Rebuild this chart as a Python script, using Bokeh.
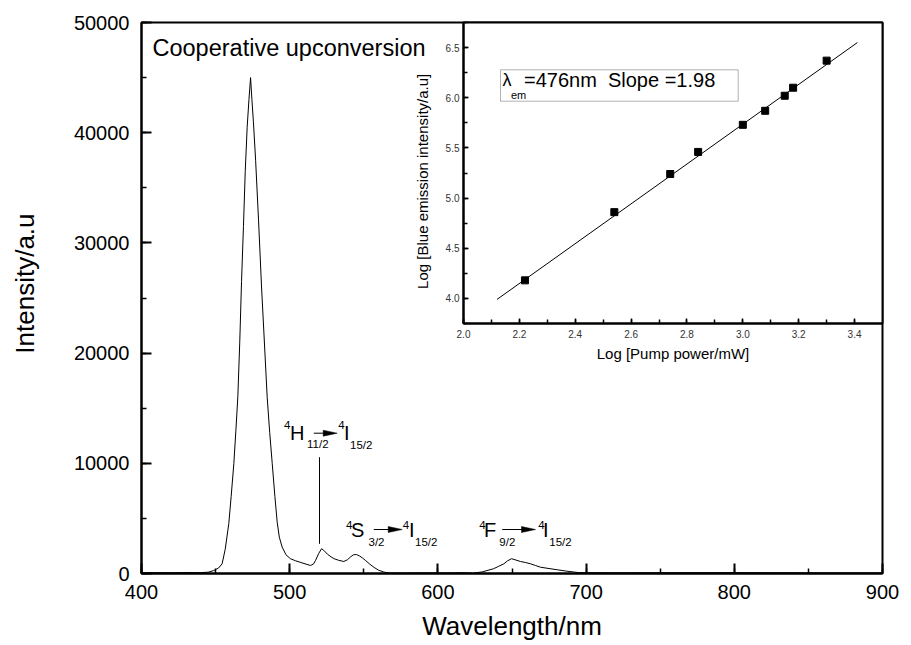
from bokeh.plotting import figure
from bokeh.models import (Range1d, SingleIntervalTicker, NumeralTickFormatter,
                          PrintfTickFormatter, BoxAnnotation, GridBox)
from bokeh.core.properties import value
from bokeh.embed import file_html
from bokeh.resources import INLINE

FONT = "Liberation Sans"
NB = "\u00a0"

# ---------------- data ----------------
wavelength = [400, 410, 420, 430, 440, 445, 448.8, 452, 454.4, 456.5, 458.9, 460.5, 462.3,
              463.7, 465, 466.3, 467.5, 468.8, 470, 471.3, 472.5, 473.6, 474.5, 475.5, 477,
              479, 481, 482.5, 484.8, 486.5, 488.2, 490, 491.6, 493, 494.9, 497.5, 500.5,
              504, 507.5, 511, 514, 516, 517.5, 519.5, 521.5, 523, 525.5, 528, 530, 533,
              536.5, 539, 541, 543, 545, 547, 549, 551, 554, 557, 560, 563.5, 567, 575,
              590, 605, 618, 624, 630, 637.5, 641, 644.5, 647, 649.7, 652, 655.7, 659,
              662.5, 666, 669.2, 675, 680.5, 687, 695, 720, 750, 800, 850, 900]
intensity = [60, 80, 70, 90, 80, 120, 270, 500, 880, 2200, 4520, 7000, 9970,
             13000, 16030, 21000, 26500, 31500, 36500, 40500, 43000, 45000, 43000, 41000, 37500,
             32000, 26000, 22100, 16000, 12800, 10000, 7000, 4600, 3300, 2400, 1700, 1340,
             1150, 1000, 850, 730, 850, 1200, 1800, 2250, 2100, 1750, 1500, 1340, 1200,
             1090, 1250, 1500, 1700, 1720, 1600, 1420, 1200, 850, 550, 300, 130, 50, 40,
             60, 50, 70, 30, 150, 430, 650, 880, 1150, 1340, 1250, 1090, 1000,
             880, 720, 570, 450, 340, 210, 80, 60, 70, 80, 60, 60]

pump_log = [2.22, 2.54, 2.74, 2.84, 3.00, 3.08, 3.15, 3.18, 3.30]
emission_log = [4.18, 4.86, 5.24, 5.46, 5.73, 5.87, 6.02, 6.10, 6.37]
fit_x = [2.12, 3.41]
fit_y = [3.99, 6.55]

# shared borders (plots in one grid cell get aligned borders)
BL, BR, BT, BB = 141, 29, 22, 72

# ---------------- main figure ----------------
p = figure(width=911, height=645, x_range=Range1d(400, 900), y_range=Range1d(0, 50000),
           output_backend="svg", toolbar_location=None,
           min_border_left=BL, min_border_right=BR, min_border_top=BT, min_border_bottom=BB)
p.grid.visible = False
p.outline_line_color = "black"
p.outline_line_width = 2
p.xaxis.ticker = SingleIntervalTicker(interval=100, num_minor_ticks=2)
p.yaxis.ticker = SingleIntervalTicker(interval=10000, num_minor_ticks=2)
p.yaxis.formatter = NumeralTickFormatter(format="0")
for ax in (p.xaxis[0], p.yaxis[0]):
    ax.major_tick_in = 10
    ax.major_tick_out = 0
    ax.minor_tick_in = 5
    ax.minor_tick_out = 0
    ax.axis_line_width = 2
    ax.major_tick_line_width = 2
    ax.minor_tick_line_width = 1.5
    ax.major_label_text_font = FONT
    ax.major_label_text_font_size = "20px"
    ax.major_label_text_color = "black"
    ax.axis_label_text_font = FONT
    ax.axis_label_text_font_size = "26px"
    ax.axis_label_text_font_style = "normal"
    ax.axis_label_text_color = "black"
p.xaxis.axis_label = "Wavelength/nm"
p.yaxis.axis_label = NB * 4 + "Intensity/a.u"
p.xaxis.major_label_standoff = 11
p.xaxis.axis_label_standoff = 9
p.yaxis.major_label_standoff = 12
p.yaxis.axis_label_standoff = 31

p.line(wavelength, intensity, line_color="black", line_width=1)

# helpers mapping reference pixel positions to main data space (annotation placement only)
def mx(px):
    return 400 + (px - 141) * 500 / 741

def my(py):
    return (573 - py) * 50000 / 551

def add_texts(fig, items, size, fx, fy):
    s = float(size.replace("px", ""))
    fig.text(x=[fx(a) for a, b, t in items], y=[fy(b - 0.34 * s) for a, b, t in items],
             text=[t for a, b, t in items], text_font=value(FONT), text_font_size=size,
             text_baseline="alphabetic", text_align="left", text_color="black")

add_texts(p, [(152, 55, "Cooperative upconversion")], "23.5px", mx, my)
add_texts(p, [(289.5, 439.3, "H"), (343.5, 439.3, "I"),
              (350.5, 536.7, "S"), (408.5, 536.7, "I"),
              (483.5, 536.7, "F"), (542.5, 536.7, "I")], "20px", mx, my)
add_texts(p, [(283.5, 428, "4"), (337.8, 428, "4"),
              (345.5, 528, "4"), (402.2, 528, "4"),
              (478.8, 528, "4"), (537.8, 528, "4")], "11.5px", mx, my)
add_texts(p, [(306.5, 447.7, "11/2"), (349.5, 448, "15/2"),
              (368, 545, "3/2"), (414.5, 545, "15/2"),
              (498.8, 545, "9/2"), (548.8, 545, "15/2")], "11.5px", mx, my)

# arrows
arrows = [(313.3, 336.7, 432.7), (373.3, 401.7, 529), (501.7, 535, 529)]
p.segment(x0=[mx(a) for a, b, c in arrows], y0=[my(c) for a, b, c in arrows],
          x1=[mx(b - 10) for a, b, c in arrows], y1=[my(c) for a, b, c in arrows],
          line_color="black", line_width=1)
p.patches(xs=[[mx(b - 14), mx(b), mx(b - 14)] for a, b, c in arrows],
          ys=[[my(c - 3), my(c), my(c + 3)] for a, b, c in arrows],
          fill_color="black", line_color="black", line_width=0.5)
# pointer line for 4H11/2 band
p.segment(x0=[mx(319)], y0=[my(456.7)], x1=[mx(319)], y1=[my(543.3)],
          line_color="black", line_width=1)

# ---------------- inset ----------------
q = figure(width=BL + 419 + BR, height=BT + 301 + BB,
           x_range=Range1d(2.0, 3.5), y_range=Range1d(3.75, 6.75),
           output_backend="svg", toolbar_location=None,
           min_border_left=BL, min_border_right=BR, min_border_top=BT, min_border_bottom=BB)
q.grid.visible = False
q.border_fill_alpha = 0
q.background_fill_color = "white"
q.outline_line_color = "black"
q.outline_line_width = 2
q.xaxis.ticker = SingleIntervalTicker(interval=0.2, num_minor_ticks=2)
q.yaxis.ticker = SingleIntervalTicker(interval=0.5, num_minor_ticks=2)
q.xaxis.formatter = PrintfTickFormatter(format="%.1f")
q.yaxis.formatter = PrintfTickFormatter(format="%.1f")
for ax in (q.xaxis[0], q.yaxis[0]):
    ax.major_tick_in = 5
    ax.major_tick_out = 0
    ax.minor_tick_in = 4
    ax.minor_tick_out = 0
    ax.axis_line_width = 2
    ax.major_tick_line_width = 1.5
    ax.minor_tick_line_width = 1.5
    ax.major_label_text_font = FONT
    ax.major_label_text_font_size = "10px"
    ax.major_label_text_color = "#333333"
    ax.axis_label_text_font = FONT
    ax.axis_label_text_font_size = "15px"
    ax.axis_label_text_font_style = "normal"
    ax.axis_label_text_color = "black"
q.xaxis.axis_label = "Log [Pump power/mW]"
q.yaxis.axis_label = "Log [Blue emission intensity/a.u]" + NB * 4
q.xaxis.major_label_standoff = 6
q.xaxis.axis_label_standoff = 4
q.yaxis.major_label_standoff = 4
q.yaxis.axis_label_standoff = 12

q.line(fit_x, fit_y, line_color="black", line_width=1)
q.scatter(pump_log, emission_log, marker="square", size=7, color="black")

def ix(px):
    return 2.0 + (px - 463) * 1.5 / 419

def iy(py):
    return 3.75 + (323 - py) * 3.0 / 301

q.add_layout(BoxAnnotation(left=ix(500), right=ix(737.7), bottom=iy(100.7), top=iy(69.3),
                           fill_color=None, line_color="black", line_width=1))
add_texts(q, [(502, 86, "λ")], "18px", ix, iy)
add_texts(q, [(510.5, 98, "em")], "11px", ix, iy)
add_texts(q, [(523.5, 86, "=476nm" + NB * 2 + "Slope =1.98")], "20px", ix, iy)

q.margin = (0, 0, 0, 463 - BL)
layout = GridBox(children=[(p, 0, 0), (q, 0, 0)])

open("out.html", "w").write(file_html(layout, INLINE))
